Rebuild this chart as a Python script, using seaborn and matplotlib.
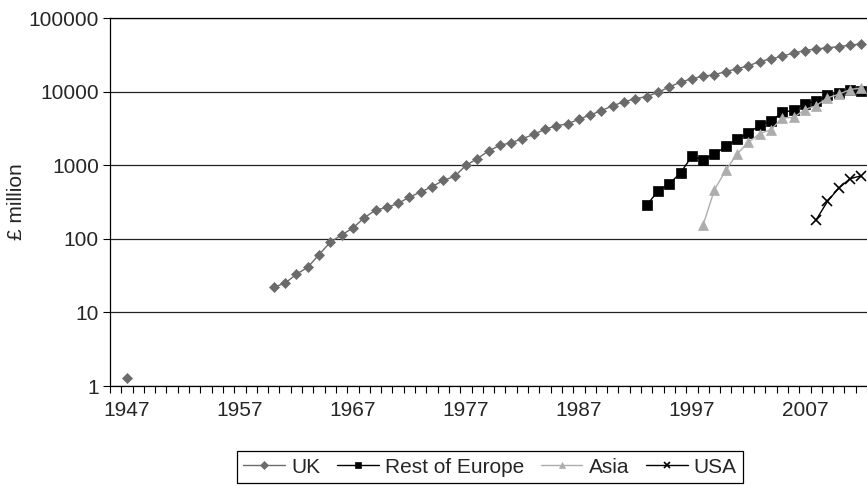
import seaborn as sns
import matplotlib.pyplot as plt
import numpy as np
import pandas as pd
from matplotlib.lines import Line2D
from matplotlib.ticker import NullLocator

# Data (£ million, log scale)
uk_years = [1947] + list(range(1960, 2013))
uk_values = [1.3,
             22, 25, 33, 41, 61, 90, 113, 140, 193, 245,
             267, 302, 369, 432, 510, 621, 704, 994, 1225, 1560,
             1860, 2020, 2290, 2620, 3070, 3445, 3650, 4200, 4820, 5510,
             6450, 7240, 8030, 8550, 9780, 11580, 13400, 15000, 16100, 17000,
             18700, 20400, 22400, 25600, 27800, 30200, 33600, 36100, 38100, 39300,
             40900, 42600, 44600]
europe_years = list(range(1993, 2013))
europe_values = [284, 450, 555, 791, 1318, 1188, 1403, 1803, 2245, 2740,
                 3480, 3945, 5230, 5570, 6870, 7380, 8910, 9590, 10400, 10100]
asia_years = list(range(1998, 2013))
asia_values = [155, 464, 850, 1420, 2040, 2685, 3040, 4390, 4450, 5690,
               6450, 8210, 9190, 10650, 11230]
usa_years = list(range(2008, 2013))
usa_values = [181, 322, 490, 655, 719]

series_names = ['UK', 'Rest of Europe', 'Asia', 'USA']
y_ticks = [1, 10, 100, 1000, 10000, 100000]
x_label_years = [1947, 1957, 1967, 1977, 1987, 1997, 2007]

# Long-form table, with a segment id so gaps in years are not joined
frames = []
for name, years, vals in zip(series_names,
                             [uk_years, europe_years, asia_years, usa_years],
                             [uk_values, europe_values, asia_values, usa_values]):
    d = pd.DataFrame({'year': years, 'value': vals, 'series': name})
    d['seg'] = (d['year'].diff() > 1).cumsum()
    frames.append(d)
df = pd.concat(frames, ignore_index=True)

styles = {
    'UK': dict(color='#6b6b6b', marker='D', ms=5.5, mew=0.5),
    'Rest of Europe': dict(color='#000000', marker='s', ms=6.8, mew=0.5),
    'Asia': dict(color='#adadad', marker='^', ms=6.5, mew=0.5),
    'USA': dict(color='#000000', marker='x', ms=6.5, mew=1.2),
}

fs = 15

sns.set_style('ticks')
plt.rcParams['font.family'] = ['Liberation Sans', 'DejaVu Sans']
plt.rcParams['font.size'] = fs

fig = plt.figure(figsize=(8.67, 4.86), dpi=100)
ax = fig.add_axes([110 / 867, 1 - 386 / 486, 757 / 867, 368 / 486])

for name in series_names:
    s = styles[name]
    sns.lineplot(data=df[df['series'] == name], x='year', y='value',
                 units='seg', estimator=None, ax=ax, legend=False,
                 color=s['color'], marker=s['marker'], markersize=s['ms'],
                 markeredgecolor=s['color'], markeredgewidth=s['mew'],
                 linewidth=1.0)

ax.set_yscale('log')
ax.set_ylim(1, 100000)
ax.set_xlim(1945.5, 2012.5)

ax.set_yticks(y_ticks)
ax.set_yticklabels([str(v) for v in y_ticks])
ax.yaxis.set_minor_locator(NullLocator())
ax.set_xticks(x_label_years)
ax.set_xticklabels([str(v) for v in x_label_years])
ax.set_xticks(np.arange(1945.5, 2013, 1), minor=True)

ax.tick_params(axis='x', which='major', length=0, pad=11, labelsize=fs)
ax.tick_params(axis='x', which='minor', length=5, width=0.8, direction='out', color='black')
ax.tick_params(axis='y', which='major', length=5, width=0.8, pad=3, labelsize=fs, color='black')

ax.yaxis.grid(True, which='major', color='#222222', linewidth=0.9)
ax.set_axisbelow(True)
ax.spines['right'].set_visible(False)
for side in ['left', 'bottom', 'top']:
    ax.spines[side].set_color('black')
    ax.spines[side].set_linewidth(0.9)

ax.set_xlabel('')
ax.set_ylabel('£ million', fontsize=fs, labelpad=2)

# Legend
handles = [Line2D([0], [0], color=styles[n]['color'], marker=styles[n]['marker'],
                  markersize=styles[n]['ms'] * 0.7, markeredgecolor=styles[n]['color'],
                  markeredgewidth=styles[n]['mew'], linewidth=1.0) for n in series_names]
leg = fig.legend(handles, series_names, loc='center', ncol=4,
                 bbox_to_anchor=(490 / 867, 1 - 467 / 486), frameon=True,
                 fancybox=False, edgecolor='black', framealpha=1,
                 handlelength=2.0, handletextpad=0.3, columnspacing=0.8,
                 borderpad=0.3, fontsize=fs)
leg.get_frame().set_linewidth(0.9)

plt.savefig('out.png', dpi=100)
print('Successfully completed')
